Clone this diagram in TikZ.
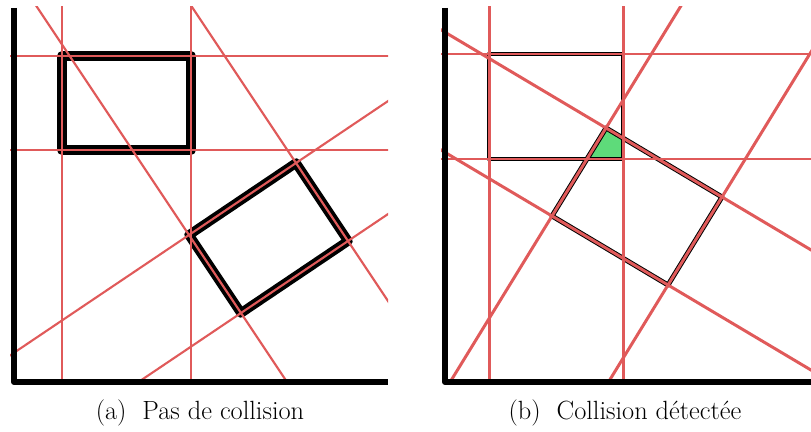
\documentclass[tikz,border=0pt]{standalone}
\usepackage{tikz}
\usetikzlibrary{calc}
\definecolor{colsep}{HTML}{E05A5A}
\definecolor{colhit}{HTML}{5EDB7A}

\begin{document}
\begin{tikzpicture}[x=0.02cm, y=-0.02cm, line join=round,
    axisline/.style={line width=3.4pt},
    sepline/.style={colsep, line width=#1},
    every node/.style={font=\fontsize{15}{18}\selectfont}]
  \useasboundingbox (0,0) rectangle (811,432);

  % (a) no collision
  \coordinate (a1) at (62,56);   \coordinate (a2) at (191,56);
  \coordinate (a3) at (191,150); \coordinate (a4) at (62,150);
  \coordinate (aT) at (296,163); \coordinate (aR) at (348,241);
  \coordinate (aB) at (241,313); \coordinate (aL) at (189,235);
  \draw[line width=5.4pt] (a1) -- (a2) -- (a3) -- (a4) -- cycle;
  \draw[line width=5.4pt] (aT) -- (aR) -- (aB) -- (aL) -- cycle;
  \begin{scope}
    \clip (10,7) rectangle (388,383);
    \foreach \s/\t in {a1/a2,a2/a3,a3/a4,a4/a1,aT/aR,aR/aB,aB/aL,aL/aT}
      \draw[sepline=1.2pt] ($(\s)!-6!(\t)$) -- ($(\t)!-6!(\s)$);
  \end{scope}
  \draw[axisline] (14,8) -- (14,382) -- (388,382);
  \node (capa) at (200,413) {(a)~~Pas de collision};

  % (b) collision found
  \coordinate (b1) at (489,54);  \coordinate (b2) at (623,54);
  \coordinate (b3) at (623,159); \coordinate (b4) at (489,159);
  \coordinate (bT) at (606,128); \coordinate (bR) at (722,197);
  \coordinate (bB) at (668,285); \coordinate (bL) at (552,216);
  \fill[colhit] (bT) -- (intersection of bT--bR and b2--b3) -- (b3)
    -- (intersection of bT--bL and b3--b4) -- cycle;
  \draw[line width=2.8pt] (b1) -- (b2) -- (b3) -- (b4) -- cycle;
  \draw[line width=2.8pt] (bT) -- (bR) -- (bB) -- (bL) -- cycle;
  \begin{scope}
    \clip (441,7) rectangle (811,383);
    \foreach \s/\t in {b1/b2,b2/b3,b3/b4,b4/b1,bT/bR,bR/bB,bB/bL,bL/bT}
      \draw[sepline=1.7pt] ($(\s)!-6!(\t)$) -- ($(\t)!-6!(\s)$);
  \end{scope}
  \draw[axisline] (445,8) -- (445,382) -- (811,382);
  \node (capb) at (625,413) {(b)~~Collision détectée};
\end{tikzpicture}
\end{document}
